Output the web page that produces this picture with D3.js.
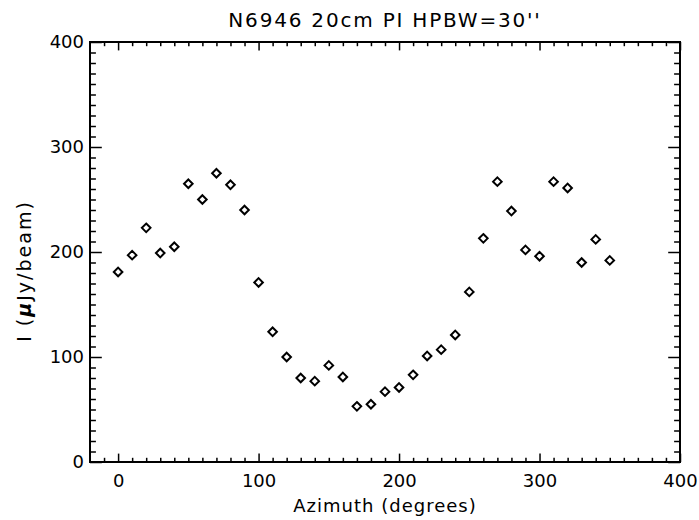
<!DOCTYPE html>
<meta charset="utf-8">
<style>
body { margin: 0; background: #fff; }
text { font-family: "DejaVu Sans"; fill: #000; }
.tick line { stroke: #000; stroke-width: 1.5; }
.axis path { display: none; }
</style>
<body>
<svg width="699" height="520"></svg>
<script src="https://d3js.org/d3.v7.min.js"></script>
<script>

var azimuth = [0, 10, 20, 30, 40, 50, 60, 70, 80, 90, 100, 110, 120, 130, 140, 150, 160, 170,
               180, 190, 200, 210, 220, 230, 240, 250, 260, 270, 280, 290, 300, 310, 320, 330, 340, 350];
var intensity = [181, 197, 223, 199, 205, 265, 250, 275, 264, 240, 171, 124, 100, 80, 77, 92, 81, 53,
                 55, 67, 71, 83, 101, 107, 121, 162, 213, 267, 239, 202, 196, 267, 261, 190, 212, 192];
var xTicks = [0, 100, 200, 300, 400];
var yTicks = [0, 100, 200, 300, 400];

var svg = d3.select("svg"),
    margin = {top: 42, right: 19, bottom: 58, left: 90},
    width = 699 - margin.left - margin.right,
    height = 520 - margin.top - margin.bottom;

var x = d3.scaleLinear().domain([-20, 400]).range([0, width]);
var y = d3.scaleLinear().domain([0, 400]).range([height, 0]);

var g = svg.append("g")
    .attr("transform", "translate(" + margin.left + "," + margin.top + ")");

// IDL style: tick length is a fraction of the plot size
var xt = 0.02 * height, yt = 0.02 * width;
var xMinor = d3.range(-10, 400, 10).filter(function (d) { return d % 100; });
var yMinor = d3.range(10, 400, 10).filter(function (d) { return d % 100; });

function side(axis, tr, vals, len, fmt) {
    var a = axis.tickValues(vals).tickSize(-len).tickFormat(fmt ? d3.format("d") : "");
    return g.append("g").attr("class", "axis").attr("transform", tr).call(a);
}

side(d3.axisBottom(x), "translate(0," + height + ")", xMinor, xt / 2);
side(d3.axisTop(x), "translate(0,0)", xMinor, xt / 2);
side(d3.axisLeft(y), "translate(0,0)", yMinor, yt / 2);
side(d3.axisRight(y), "translate(" + width + ",0)", yMinor, yt / 2);
side(d3.axisTop(x), "translate(0,0)", xTicks, xt);
side(d3.axisRight(y), "translate(" + width + ",0)", yTicks, yt);

var xb = side(d3.axisBottom(x), "translate(0," + height + ")", xTicks, xt, true);
xb.selectAll("text").attr("y", 12).attr("dy", "0.71em").style("font-size", "18px");
var yl = side(d3.axisLeft(y), "translate(0,0)", yTicks, yt, true);
yl.selectAll("text").attr("x", -6).attr("dy", "0.3em").style("font-size", "18px");

g.append("rect")
    .attr("width", width)
    .attr("height", height)
    .attr("fill", "none")
    .attr("stroke", "#000")
    .attr("stroke-width", 2);

g.selectAll("path.pt")
    .data(azimuth)
    .enter().append("path")
    .attr("class", "pt")
    .attr("d", "M0,-4.3L4.3,0L0,4.3L-4.3,0Z")
    .attr("transform", function (d, i) {
        return "translate(" + x(d) + "," + y(intensity[i]) + ")";
    })
    .attr("fill", "none")
    .attr("stroke", "#000")
    .attr("stroke-width", 2);

svg.append("text")
    .attr("x", margin.left + width / 2)
    .attr("y", 27)
    .attr("text-anchor", "middle")
    .style("font-size", "20px")
    .style("letter-spacing", "1.8px")
    .text("N6946 20cm PI HPBW=30''");

svg.append("text")
    .attr("x", margin.left + width / 2)
    .attr("y", 512)
    .attr("text-anchor", "middle")
    .style("font-size", "18px")
    .style("letter-spacing", "1px")
    .text("Azimuth (degrees)");

var yTitle = svg.append("text")
    .attr("transform", "translate(31,271) rotate(-90)")
    .attr("text-anchor", "middle")
    .style("font-size", "19px")
    .style("letter-spacing", "2px");
yTitle.append("tspan").text("I (");
yTitle.append("tspan").style("font-style", "italic").style("font-weight", "bold").text("μ");
yTitle.append("tspan").text("Jy/beam)");

</script>
</body>
